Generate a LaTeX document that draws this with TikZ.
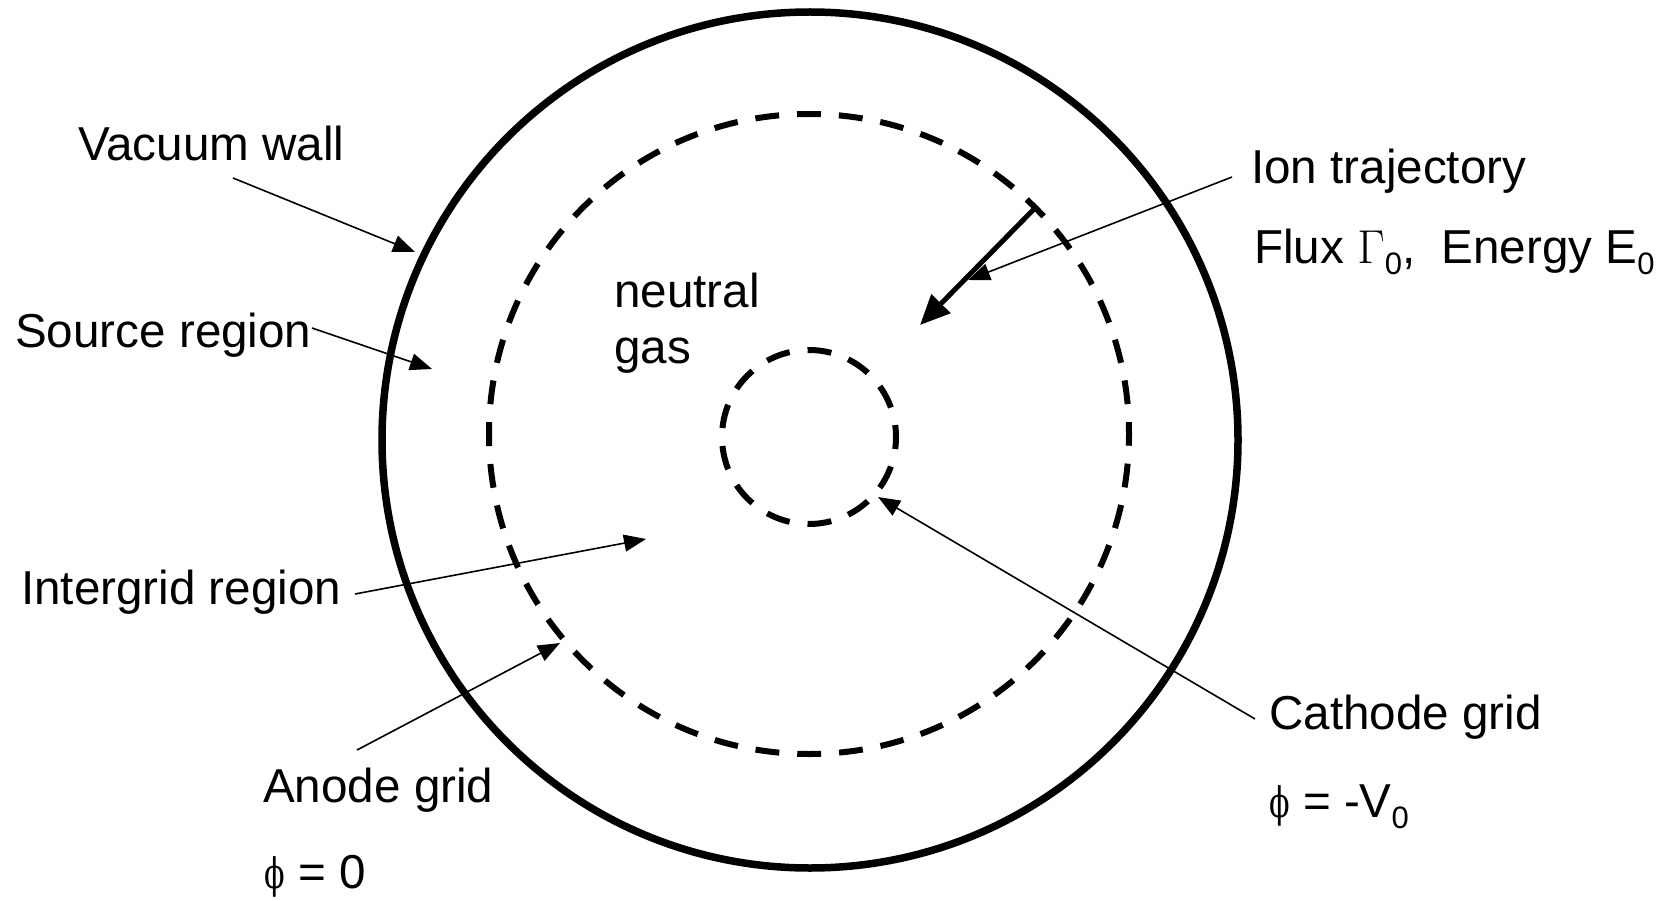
\RequirePackage{fix-cm}
\documentclass[tikz,border=0pt]{standalone}
\usepackage{graphicx}
\usepackage{fontspec}
\setmainfont{Liberation Sans}
\newfontfamily\grk{DejaVu Serif}
\usetikzlibrary{arrows.meta}
\newcommand\lowsub[1]{\raisebox{-11pt}{\fontsize{31}{31}\selectfont #1}}
\newcommand\phisym{{\grk\fontsize{42}{42}\selectfont\scalebox{0.72}[1]{ϕ}}}
\begin{document}
\begin{tikzpicture}[x=1pt,y=-1pt,
  lbl/.style={anchor=base west, inner sep=0pt, font=\fontsize{47.6}{56}\selectfont},
  pointer/.style={line width=1.6pt, -{Triangle[length=22pt,width=17pt]}},
  thickarrow/.style={line width=5pt, -{Triangle[length=30pt,width=26pt]}},
  wall/.style={line width=7.5pt},
  gridline/.style={line width=6pt}]
\useasboundingbox (0,0) rectangle (1677,901);

% circles
\draw[wall] (810,440) circle[radius=428pt];
\draw[gridline, dash pattern=on 23.9pt off 18pt, dash phase=12pt] (809,434) circle[radius=320pt];
\draw[gridline, dash pattern=on 24pt off 18.05pt, dash phase=12pt] (809,437) circle[radius=87pt];

% labels
\node[lbl] (vac) at (78,161) {Vacuum wall};
\node[lbl] (src) at (15,347) {Source region};
\node[lbl] (neu) at (614,307) {neutral};
\node[lbl] (gas) at (614,363) {gas};
\node[lbl] (ion) at (1251,184) {Ion trajectory};
\node[lbl] (flux) at (1254,263) {Flux $\Gamma$\lowsub{0},\ \ Energy E\lowsub{0}};
\node[lbl] (inter) at (21,604) {Intergrid region};
\node[lbl] (anode) at (263,802) {Anode grid};
\node[lbl] (aphi) at (264,888) {\phisym{} = 0};
\node[lbl] (cath) at (1269,729) {Cathode grid};
\node[lbl] (cphi) at (1269,817) {\phisym{} = -V\lowsub{0}};

% connector ends
\coordinate (vacS) at (233,178);
\coordinate (vacT) at (415,252);
\coordinate (srcS) at (312,328);
\coordinate (srcT) at (432,369);
\coordinate (intS) at (355,594);
\coordinate (intT) at (646,539);
\coordinate (anoS) at (357,750);
\coordinate (anoT) at (560,643);
\coordinate (ionS) at (1232,177);
\coordinate (ionT) at (968,280);
\coordinate (catS) at (1255,719);
\coordinate (catT) at (878,497);
\coordinate (trajS) at (1036,207);
\coordinate (trajT) at (920,325);

\draw[pointer] (vacS) -- (vacT);
\draw[pointer] (srcS) -- (srcT);
\draw[pointer] (intS) -- (intT);
\draw[pointer] (anoS) -- (anoT);
\draw[pointer] (ionS) -- (ionT);
\draw[pointer] (catS) -- (catT);
\draw[thickarrow] (trajS) -- (trajT);
\end{tikzpicture}
\end{document}
